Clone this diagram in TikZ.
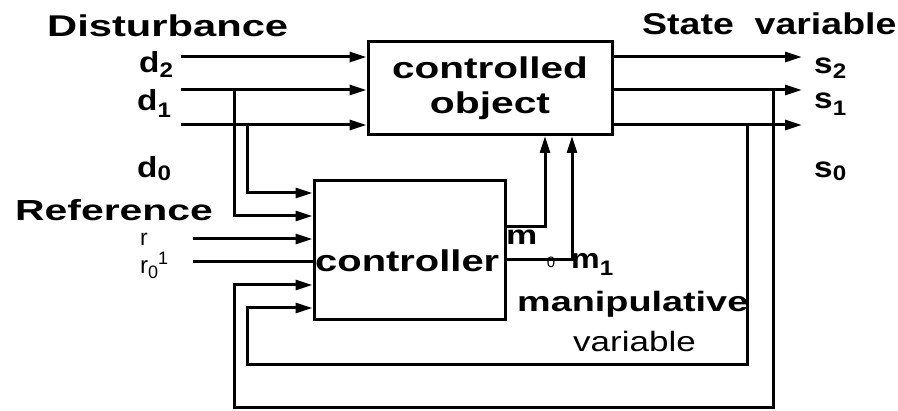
\documentclass[tikz,border=0pt]{standalone}
\usepackage{fontspec}
\setmainfont{Liberation Sans}
\usepackage{graphicx}
\usetikzlibrary{arrows.meta}
\newcommand{\sx}[2]{\scalebox{#1}[1]{#2}}
\newcommand{\fs}[1]{\fontsize{#1}{#1}\selectfont}
\begin{document}
\begin{tikzpicture}[x=1pt,y=-1pt,
  ln/.style={line width=3pt},
  arr/.style={ln,-{Triangle[length=17pt,width=10pt]}},
  box/.style={draw,rectangle,line width=3pt,inner sep=0pt},
  txt/.style={inner sep=0pt,anchor=base west}]
\useasboundingbox (0,0) rectangle (898,411);

% boxes
\node[box,minimum width=244pt,minimum height=93pt,align=center,
      font=\bfseries\fontsize{30}{35}\selectfont] (co) at (490,88)
      {\sx{1.35}{controlled}\\\sx{1.36}{object}};
\node[box,minimum width=191pt,minimum height=139pt] (ctrl) at (409.5,250.5) {};
\node[txt,font=\bfseries\fs{30}] (ctrltxt) at (315,272) {\sx{1.33}{controller}};

% disturbance inputs
\coordinate (d2a) at (181,57);
\coordinate (d1a) at (181,90);
\coordinate (d0a) at (181,125);
\draw[arr] (d2a) -- (d2a -| co.west);
\draw[arr] (d1a) -- (d1a -| co.west);
\draw[arr] (d0a) -- (d0a -| co.west);

% branches to controller
\coordinate (b1) at (234,90);
\coordinate (b1e) at (234,216);
\draw[arr] (b1) -- (b1e) -- (b1e -| ctrl.west);
\coordinate (b0) at (247,125);
\coordinate (b0e) at (247,193);
\draw[arr] (b0) -- (b0e) -- (b0e -| ctrl.west);

% reference inputs
\coordinate (ra) at (193,239);
\draw[arr] (ra) -- (ra -| ctrl.west);
\coordinate (r0a) at (193,262);
\draw[ln] (r0a) -- (r0a -| ctrl.west);

% state outputs
\coordinate (s2e) at (802,57);
\coordinate (s1e) at (802,90);
\coordinate (s0e) at (802,125);
\draw[arr] (s2e -| co.east) -- (s2e);
\draw[arr] (s1e -| co.east) -- (s1e);
\draw[arr] (s0e -| co.east) -- (s0e);

% feedback loops
\coordinate (f1t) at (773,90);
\coordinate (f1b) at (773,408);
\coordinate (f1l) at (234,408);
\coordinate (f1e) at (234,285);
\draw[arr] (f1t) -- (f1b) -- (f1l) -- (f1e) -- (f1e -| ctrl.west);
\coordinate (f0t) at (747,125);
\coordinate (f0b) at (747,365);
\coordinate (f0l) at (247,365);
\coordinate (f0e) at (247,308);
\draw[arr] (f0t) -- (f0b) -- (f0l) -- (f0e) -- (f0e -| ctrl.west);

% manipulated variables
\coordinate (mc) at (545,227);
\draw[arr] (mc -| ctrl.east) -- (mc) -- (mc |- co.south);
\coordinate (m1c) at (572,260);
\draw[arr] (m1c -| ctrl.east) -- (m1c) -- (m1c |- co.south);

% labels
\node[txt,font=\bfseries\fs{30}] (ldist) at (47,37) {\sx{1.39}{Disturbance}};
\node[txt,font=\bfseries\fs{30}] (lstate) at (642,35) {\sx{1.25}{State~~variable}};
\node[txt,font=\bfseries\fs{29}] (lref) at (15,221) {\sx{1.41}{Reference}};

\node[txt,font=\bfseries\fs{29}] (ld2) at (139,73) {\sx{1.15}{d\raisebox{-5pt}{\fs{21}2}}};
\node[txt,font=\bfseries\fs{29}] (ld1) at (137,111) {\sx{1.15}{d\raisebox{-7pt}{\fs{21}1}}};
\node[txt,font=\bfseries\fs{29}] (ld0) at (137,178) {\sx{1.15}{d\raisebox{-3pt}{\fs{21}0}}};

\node[txt,font=\bfseries\fs{29}] (ls2) at (814,74) {\sx{1.15}{s\raisebox{-5pt}{\fs{21}2}}};
\node[txt,font=\bfseries\fs{29}] (ls1) at (814,109) {\sx{1.15}{s\raisebox{-7pt}{\fs{21}1}}};
\node[txt,font=\bfseries\fs{29}] (ls0) at (814,178) {\sx{1.15}{s\raisebox{-3pt}{\fs{21}0}}};

\node[txt,font=\fs{23}] (lr) at (140,246) {r};
\node[txt,font=\fs{24}] (lr0) at (140,274) {r\raisebox{-5pt}{\fs{18}0}\raisebox{9pt}{\fs{18}1}};

\node[txt,font=\bfseries\fs{27}] (lm) at (506,245) {\sx{1.3}{m}};
\node[font=\fs{15},inner sep=0pt] (lz) at (551,262) {0};
\node[txt,font=\bfseries\fs{28}] (lm1) at (571,269) {\sx{1.15}{m\raisebox{-7pt}{\fs{21}1}}};

\node[txt,font=\bfseries\fs{28}] (lmanip) at (517,312) {\sx{1.35}{manipulative}};
\node[txt,font=\fs{28}] (lvar) at (573,352) {\sx{1.25}{variable}};
\end{tikzpicture}
\end{document}
